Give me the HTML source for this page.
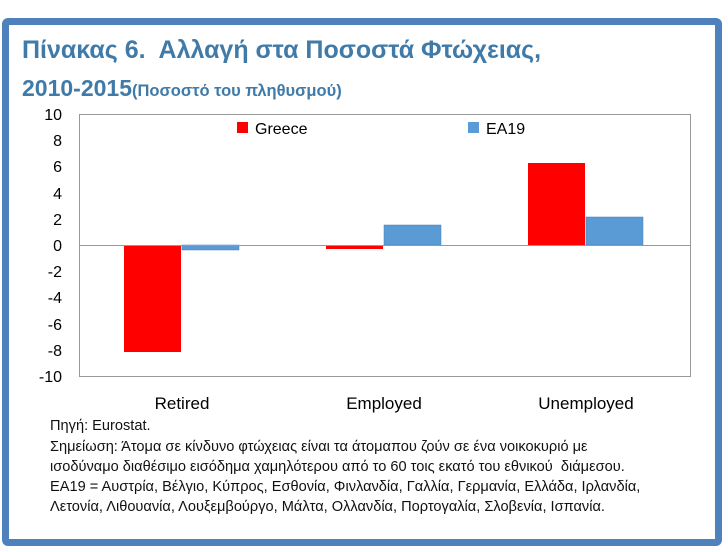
<!DOCTYPE html>
<html><head><meta charset="utf-8"><style>
body{margin:0;width:728px;height:552px;background:#fff;overflow:hidden;font-family:"Liberation Sans","DejaVu Sans",sans-serif;}
.frame{position:absolute;left:2px;top:18px;width:706px;height:514px;border:7px solid #4f81bd;border-radius:6px;background:#fff;}
.t{position:absolute;color:#3f7aa8;font-weight:bold;white-space:nowrap}
.n{position:absolute;left:50px;font-size:14.6px;color:#111;white-space:nowrap}
</style></head><body>
<div class="frame"></div>
<div class="t" style="left:22px;top:36px;font-size:25px">Πίνακας 6.&nbsp; Αλλαγή στα Ποσοστά Φτώχειας,</div>
<div class="t" style="left:22px;top:75px;font-size:23px">2010-2015<span style="font-size:16.5px">(Ποσοστό του πληθυσμού)</span></div>
<svg style="position:absolute;left:0;top:0" width="728" height="552" font-family="Liberation Sans, sans-serif">
<rect x="79.5" y="114.5" width="611" height="262" fill="none" stroke="#999"/>
<g fill="#000" font-size="16" text-anchor="end">
<text x="62" y="120">10</text><text x="62" y="146">8</text><text x="62" y="172">6</text><text x="62" y="199">4</text><text x="62" y="225">2</text><text x="62" y="251">0</text><text x="62" y="277">-2</text><text x="62" y="303">-4</text><text x="62" y="330">-6</text><text x="62" y="356">-8</text><text x="62" y="382">-10</text>
</g>
<rect x="124" y="245" width="57" height="107" fill="#ff0000"/>
<rect x="182" y="245" width="57" height="5" fill="#5b9bd5" stroke="#4a7ebb" stroke-width="0.5"/>
<rect x="326" y="245" width="57" height="4" fill="#ff0000"/>
<rect x="384" y="225" width="57" height="20" fill="#5b9bd5" stroke="#4a7ebb" stroke-width="0.5"/>
<rect x="528" y="163" width="57" height="82" fill="#ff0000"/>
<rect x="586" y="217" width="57" height="28" fill="#5b9bd5" stroke="#4a7ebb" stroke-width="0.5"/>
<line x1="79" y1="245.5" x2="690" y2="245.5" stroke="#999"/>
<rect x="237" y="122" width="11" height="11" fill="#ff0000"/>
<text x="255" y="134" font-size="16">Greece</text>
<rect x="468" y="122" width="11" height="11" fill="#5b9bd5"/>
<text x="486" y="134" font-size="16">EA19</text>
<g font-size="17" text-anchor="middle">
<text x="182" y="409">Retired</text><text x="384" y="409">Employed</text><text x="586" y="409">Unemployed</text>
</g>
</svg>
<div class="n" style="top:418px">Πηγή: Eurostat.</div>
<div class="n" style="top:439px">Σημείωση: Άτομα σε κίνδυνο φτώχειας είναι τα άτομαπου ζούν σε ένα νοικοκυριό με</div>
<div class="n" style="top:459px">ισοδύναμο διαθέσιμο εισόδημα χαμηλότερου από το 60 τοις εκατό του εθνικού&nbsp; διάμεσου.</div>
<div class="n" style="top:479px">ΕΑ19 = Αυστρία, Βέλγιο, Κύπρος, Εσθονία, Φινλανδία, Γαλλία, Γερμανία, Ελλάδα, Ιρλανδία,</div>
<div class="n" style="top:499px">Λετονία, Λιθουανία, Λουξεμβούργο, Μάλτα, Ολλανδία, Πορτογαλία, Σλοβενία, Ισπανία.</div>
</body></html>
